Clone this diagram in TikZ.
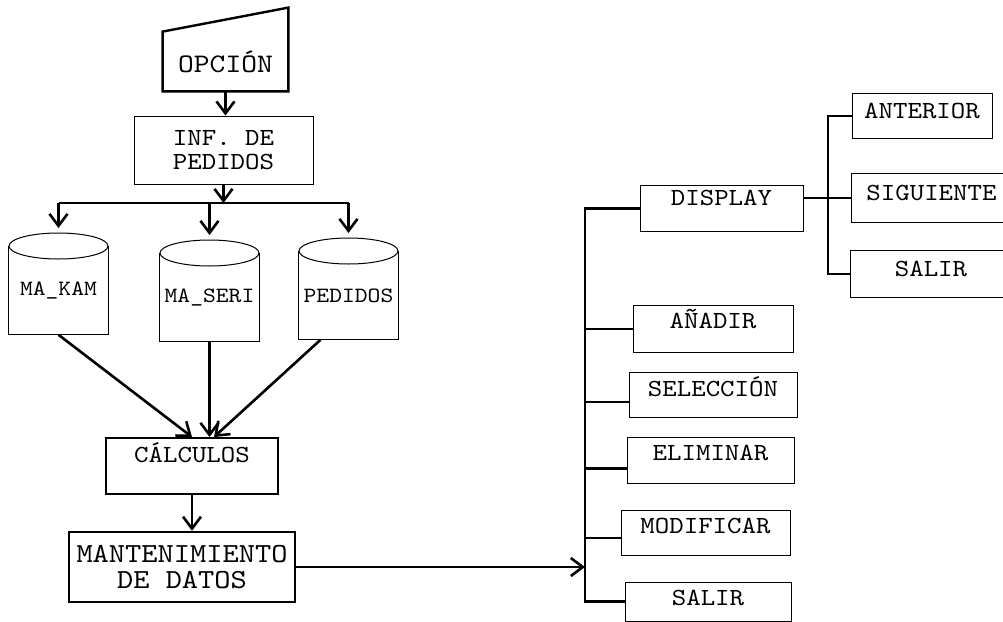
\documentclass[tikz,border=0pt]{standalone}
\usepackage{fontspec}
\newfontfamily\typew{lmmono10-regular.otf}[FakeStretch=1.12]
\usetikzlibrary{arrows.meta}

\begin{document}
\begin{tikzpicture}[
  x=0.5pt, y=-0.5pt,
  font=\typew\fontsize{12.3}{12}\selectfont,
  box/.style={draw, line width=0.5pt, anchor=north, inner sep=0pt,
              text height=11.25pt, text depth=11.25pt},
  heavy/.style={draw, line width=1.2pt, inner sep=0pt},
  db/.style={anchor=north, inner sep=0pt, minimum width=49.5pt,
             minimum height=44pt, font=\typew\fontsize{10.9}{12}\selectfont},
  wire/.style={line width=1.3pt},
  >={Straight Barb[length=6pt,width=9pt]}]
\fill[white] (0,0) rectangle (1003,622);
\useasboundingbox (0,0) rectangle (1003,622);

% left column
\node[inner sep=0pt, minimum width=62.5pt, minimum height=29.5pt,
      font=\typew\fontsize{13.4}{14}\selectfont] (opc) at (225.5,61.5) {OPCIÓN};
\draw[line width=1.2pt] (opc.south west) -- (opc.north west)
  -- ([yshift=12pt]opc.north east) -- (opc.south east) -- cycle;
\node[draw, line width=0.5pt, inner sep=0pt, minimum width=89.5pt,
      minimum height=34pt, align=center] (inf) at (223.5,150) {INF. DE\\PEDIDOS};
\node[db] (kam) at (58.5,246) {MA\_KAM};
\node[db] (seri) at (209.5,253) {MA\_SERI};
\node[db] (ped) at (348.5,251) {PEDIDOS};
\node[heavy, anchor=north, minimum width=86pt, text height=12.25pt,
      text depth=15.75pt] (calc) at (192,437) {CÁLCULOS};
\node[heavy, minimum width=113pt, minimum height=35pt, align=center,
      font=\typew\fontsize{13.8}{13}\selectfont] (mant) at (182,567)
      {MANTENIMIENTO\\DE DATOS};

% menu
\node[box, minimum width=81.5pt, text height=9.75pt, text depth=13.25pt] (disp) at (721.5,185) {DISPLAY};
\node[box, minimum width=80pt, text depth=12.25pt] (anad) at (713,305) {AÑADIR};
\node[box, minimum width=84pt, text height=11.75pt, text depth=10.75pt] (selc) at (713,372) {SELECCIÓN};
\node[box, minimum width=83.5pt, text depth=11.75pt] (elim) at (710.5,437) {ELIMINAR};
\node[box, minimum width=84.5pt] (modf) at (705.5,510) {MODIFICAR};
\node[box, minimum width=83pt, text depth=8pt] (salb) at (708,582) {SALIR};
\node[box, minimum width=70pt, text height=12.25pt, text depth=10.25pt] (ante) at (922,93) {ANTERIOR};
\node[box, minimum width=80.5pt, text height=13.25pt, text depth=11.25pt] (sigu) at (931.5,173) {SIGUIENTE};
\node[box, minimum width=81pt, text height=12.75pt, text depth=10.75pt] (salr) at (931,250) {SALIR};

\coordinate (fork) at (218,203);
\coordinate (lbus) at (585,0);
\coordinate (rbus) at (828,0);

% cylinders
\foreach \c in {kam, seri, ped} {
  \draw[line width=0.5pt] (\c.north west) |- (\c.south east) -- (\c.north east);
  \draw[line width=0.5pt] (\c.north) ellipse [x radius=24.75pt, y radius=6.5pt];
}

\draw[wire, ->] (opc.south) -- (opc.south |- inf.north);
\draw[wire, ->] (inf.south) -- (inf.south |- fork);
\draw[wire] (kam.north |- fork) -- (ped.north |- fork);
\foreach \c in {kam, seri, ped}
  \draw[wire, ->] (\c.north |- fork) -- ([yshift=9pt]\c.north);
\draw[wire, ->] (kam.south) -- (calc.north);
\draw[wire, ->] (seri.south) -- (seri.south |- calc.north);
\draw[wire, ->] ([xshift=-14pt]ped.south) -- ([xshift=11pt]calc.north);
\draw[wire, ->] (calc.south) -- (calc.south |- mant.north);
\draw[wire, ->] (mant.east) -- (mant.east -| lbus);

% tree
\draw[wire] (disp.west) -- (disp.west -| lbus) |- (salb.west);
\foreach \b/\s in {anad/0, selc/-3.5, elim/-4, modf/-2.5}
  \draw[wire] ([yshift=\s pt]\b.west -| lbus) -- ([yshift=\s pt]\b.west);
\draw[wire] (ante.west) -| (rbus |- salr.west) -- (salr.west);
\draw[wire] (disp.east |- sigu.west) -- (sigu.west);
\end{tikzpicture}
\end{document}
